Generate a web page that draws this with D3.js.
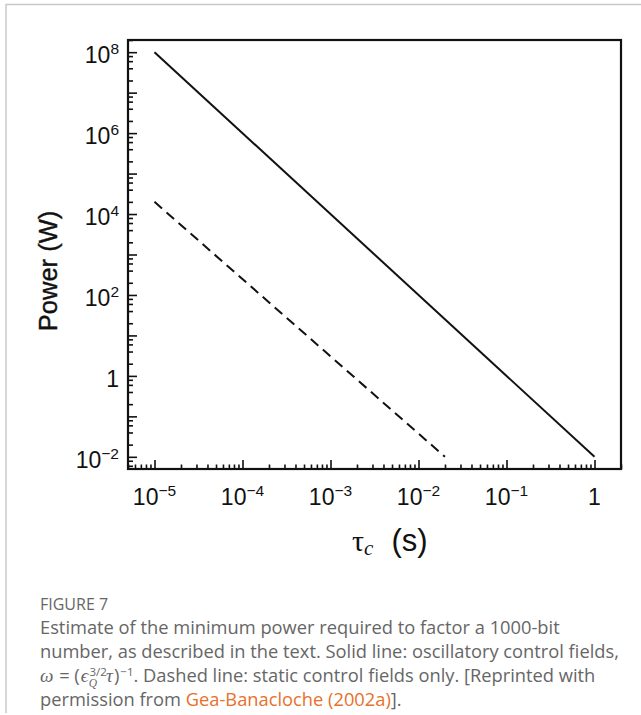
<!DOCTYPE html>
<html>
<head>
<meta charset="utf-8">
<script src="https://cdn.jsdelivr.net/npm/d3@7"></script>
<style>
  html, body { margin: 0; padding: 0; background: #fff; }
  svg { display: block; }
</style>
</head>
<body>
<svg id="chart" width="641" height="715"></svg>
<script>
// ---- data ----
const solidX = [1e-5, 1];
const solidY = [1e8, 1e-2];
const dashedX = [1e-5, 2e-2];
const dashedY = [2e4, 1e-2];
const xDomain = [5e-6, 2];
const yDomain = [5e-3, 2e8];
const xTickValues = [1e-5, 1e-4, 1e-3, 1e-2, 1e-1, 1];
const xTickBase = ["10", "10", "10", "10", "10", "1"];
const xTickExp = ["\u22125", "\u22124", "\u22123", "\u22122", "\u22121", ""];
const yTickValues = [1e8, 1e6, 1e4, 1e2, 1, 1e-2];
const yTickBase = ["10", "10", "10", "10", "1", "10"];
const yTickExp = ["8", "6", "4", "2", "", "\u22122"];
const xLabelMain = "\u03C4";
const xLabelSub = "c";
const xLabelUnit = "(s)";
const yLabel = "Power (W)";
const captionTitle = "FIGURE 7";

const svg = d3.select("#chart");
const W = 641, H = 715;
const plot = { left: 128, top: 40, right: 621, bottom: 469 };

// outer frame (light gray)
svg.append("line").attr("x1", 6).attr("x2", W).attr("y1", 4.5).attr("y2", 4.5)
  .attr("stroke", "#c8c8c8").attr("stroke-width", 1.5);
svg.append("line").attr("x1", 6).attr("x2", 6).attr("y1", 4).attr("y2", 713)
  .attr("stroke", "#c8c8c8").attr("stroke-width", 1.5);

const x = d3.scaleLog().domain(xDomain).range([plot.left, plot.right]);
const y = d3.scaleLog().domain(yDomain).range([plot.bottom, plot.top]);

// ticks generated from the log scale domains
function logTicks(domain, mults) {
  const out = [];
  const lo = Math.floor(Math.log10(domain[0])), hi = Math.ceil(Math.log10(domain[1]));
  for (let e = lo; e <= hi; e++) {
    mults.forEach(m => {
      const v = m * Math.pow(10, e);
      if (v >= domain[0] * 0.999 && v <= domain[1] * 1.001) out.push(v);
    });
  }
  return out;
}
const xMajor = logTicks(xDomain, [1]);
const xMinor = logTicks(xDomain, [2, 3, 4, 5, 6, 7, 8, 9]);
const yMajor = logTicks(yDomain, [1]);
const yMinor = logTicks(yDomain, [2, 4, 6, 8]);

const gx = svg.append("g").attr("transform", `translate(0,${plot.bottom})`);
gx.call(d3.axisBottom(x).tickValues(xMinor).tickSize(-4.5).tickFormat(""));
gx.append("g").call(d3.axisBottom(x).tickValues(xMajor).tickSize(-9).tickFormat(""));
const gy = svg.append("g").attr("transform", `translate(${plot.left},0)`);
gy.call(d3.axisLeft(y).tickValues(yMinor).tickSize(-5).tickFormat(""));
gy.append("g").call(d3.axisLeft(y).tickValues(yMajor).tickSize(-9).tickFormat(""));
svg.selectAll(".domain").remove();
svg.selectAll(".tick line").attr("stroke", "#111").attr("stroke-width", 1.6);

// plot frame
svg.append("rect").attr("x", plot.left).attr("y", plot.top)
  .attr("width", plot.right - plot.left).attr("height", plot.bottom - plot.top)
  .attr("fill", "none").attr("stroke", "#111").attr("stroke-width", 2.2);

// tick labels
const tickFont = "'Liberation Sans', Arial, Helvetica, sans-serif";
xTickValues.forEach((v, i) => {
  const t = svg.append("text").attr("x", x(v)).attr("y", 505)
    .attr("text-anchor", "middle").attr("font-family", tickFont)
    .attr("font-size", 23).attr("fill", "#111");
  t.append("tspan").text(xTickBase[i]);
  if (xTickExp[i]) t.append("tspan").attr("dy", -9).attr("font-size", 15.5).text(xTickExp[i]);
});
yTickValues.forEach((v, i) => {
  const t = svg.append("text").attr("x", 119).attr("y", y(v) + 11)
    .attr("text-anchor", "end").attr("font-family", tickFont)
    .attr("font-size", 23).attr("fill", "#111");
  t.append("tspan").text(yTickBase[i]);
  if (yTickExp[i]) t.append("tspan").attr("dy", -9).attr("font-size", 15.5).text(yTickExp[i]);
});

// axis titles
svg.append("text").attr("transform", "translate(57,271) rotate(-90)")
  .attr("text-anchor", "middle").attr("font-family", tickFont)
  .attr("font-size", 25.5).attr("fill", "#111")
  .attr("stroke", "#111").attr("stroke-width", 0.4).text(yLabel);
const xt = svg.append("text").attr("x", 352).attr("y", 551)
  .attr("font-family", "'Liberation Serif', 'DejaVu Serif', serif")
  .attr("font-size", 30).attr("fill", "#111");
xt.append("tspan").text(xLabelMain);
xt.append("tspan").attr("dy", 4).attr("font-size", 21).attr("font-style", "italic").text(xLabelSub);
xt.append("tspan").attr("dy", -4).attr("dx", 18).attr("font-family", tickFont)
  .attr("font-size", 31).text(xLabelUnit);

// lines
const line = d3.line().x(d => x(d[0])).y(d => y(d[1]));
svg.append("path").datum(d3.zip(solidX, solidY)).attr("d", line)
  .attr("fill", "none").attr("stroke", "#111").attr("stroke-width", 2);
svg.append("path").datum(d3.zip(dashedX, dashedY)).attr("d", line)
  .attr("fill", "none").attr("stroke", "#111").attr("stroke-width", 2)
  .attr("stroke-dasharray", "10,6");

// caption
const capFont = "'Open Sans', 'Noto Sans', sans-serif";
const capColor = "#666666";
svg.append("text").attr("x", 40).attr("y", 610).attr("font-family", capFont)
  .attr("font-size", 16).attr("fill", capColor).text(captionTitle);
const capLines = [
  "Estimate of the minimum power required to factor a 1000-bit",
  "number, as described in the text. Solid line: oscillatory control fields,"
];
const capSize = 18.3;
capLines.forEach((s, i) => {
  svg.append("text").attr("x", 40).attr("y", 634 + i * 24).attr("font-family", capFont)
    .attr("font-size", capSize).attr("fill", capColor).text(s);
});
const l3 = svg.append("text").attr("x", 40).attr("y", 682).attr("font-family", capFont)
  .attr("font-size", capSize).attr("fill", capColor);
const serifI = "'Liberation Serif', 'DejaVu Serif', serif";
l3.append("tspan").attr("font-family", serifI).attr("font-style", "italic").attr("font-size", 19).text("\u03C9");
l3.append("tspan").attr("dx", 1).text(" = (");
l3.append("tspan").attr("dx", 1).attr("font-family", serifI).attr("font-style", "italic").attr("font-size", 19).text("\u03F5");
l3.append("tspan").attr("dy", -6.5).attr("dx", 1).attr("font-size", 11.5).text("3/2");
l3.append("tspan").attr("dy", 11).attr("dx", -18).attr("font-size", 11.5)
  .attr("font-family", serifI).attr("font-style", "italic").text("Q");
l3.append("tspan").attr("dy", -4.5).attr("dx", 9).attr("font-family", serifI).attr("font-style", "italic").attr("font-size", 19).text("\u03C4");
l3.append("tspan").attr("dx", 1).text(")");
l3.append("tspan").attr("dy", -6.5).attr("dx", 1).attr("font-size", 11.5).text("\u22121");
l3.append("tspan").attr("dy", 6.5).text(". Dashed line: static control fields only. [Reprinted with");
const l4 = svg.append("text").attr("x", 40).attr("y", 706).attr("font-family", capFont)
  .attr("font-size", capSize).attr("fill", capColor);
l4.append("tspan").text("permission from ");
l4.append("tspan").attr("fill", "#e8702a").text("Gea-Banacloche (2002a)");
l4.append("tspan").text("].");
</script>
</body>
</html>
